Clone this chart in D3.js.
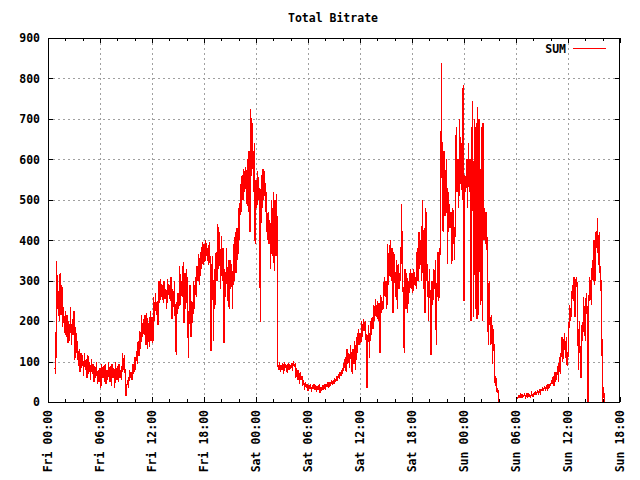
<!DOCTYPE html>
<html><head><meta charset="utf-8">
<script src="https://cdn.jsdelivr.net/npm/d3@7"></script>
<style>
body{margin:0;background:#fff}
svg text{font-family:"DejaVu Sans Mono",monospace;font-weight:bold;font-size:11.5px;fill:#000}
</style>
</head><body>
<svg id="c" width="640" height="480"></svg>
<script>
// Samples every 0.1 h, hours measured from Fri 00:00
const sampleStep = 0.1;
const friStart = 0.8;
const friValues = [
  85, 70,
  348, 230, 275, 200, 320, 215, 290, 185, 235, 170,
  225, 160, 215, 145, 200, 150, 235, 140, 205, 165,
  225, 105, 185, 120, 150, 90, 130, 75, 120, 85,
  115, 65, 120, 80, 105, 60, 115, 70, 100, 55,
  105, 70, 95, 50, 90, 60, 100, 45, 80, 50,
  85, 35, 95, 60, 90, 50, 95, 45, 80, 55,
  100, 50, 90, 40, 95, 60, 85, 35, 100, 55,
  90, 50, 95, 60, 80, 55, 120, 80, 115, 70,
  15, 40, 55, 35, 80, 60, 75, 55, 95, 70,
  110, 80, 125, 95, 150, 115, 175, 130, 215, 160,
  205, 165, 215, 140, 220, 130, 195, 135, 225, 150,
  210, 145, 260, 200, 270, 215, 250, 190, 300, 245,
  305, 260, 290, 245, 300, 255, 280, 230, 305, 265,
  290, 250, 310, 205, 280, 235, 300, 170, 115, 250,
  270, 230, 335, 240, 300, 260, 345, 195, 320, 230,
  330, 260, 108, 250, 290, 160, 250, 195, 300, 230,
  310, 260, 335, 300, 365, 290, 370, 330, 395, 340,
  390, 345, 400, 360, 380, 340, 395, 355, 125, 330,
  360, 150, 330, 240, 370, 300, 440, 330, 420, 280,
  410, 300, 380, 146, 330, 260, 380, 250, 350, 230,
  350, 280, 340, 230, 390, 300, 420, 320, 430, 350,
  480, 400, 540, 470, 560, 500, 575, 520, 580, 490,
  600, 470, 620, 420, 725, 560, 690, 520, 640, 390
];
const satStart = 24.0;
const satValues = [
  550, 480, 570, 500, 530, 198, 560, 480, 575, 500,
  570, 470, 520, 400, 470, 390, 450, 330, 500, 360,
  520, 325, 500, 360, 515, 96, 80, 98, 75, 92,
  80, 95, 70, 98, 85, 92, 72, 95, 80, 90,
  85, 95, 78, 100, 88, 92, 60, 85, 55, 80,
  45, 75, 55, 65, 40, 55, 30, 48, 35, 45,
  28, 42, 32, 45, 25, 40, 35, 45, 30, 42,
  25, 40, 30, 45, 22, 38, 28, 42, 35, 40,
  30, 45, 38, 48, 35, 50, 40, 55, 42, 52,
  45, 58, 50, 60, 55, 68, 58, 75, 65, 80,
  70, 95, 85, 110, 75, 130, 95, 120, 85, 140,
  110, 70, 130, 95, 150, 80, 160, 120, 180, 140,
  170, 145, 200, 160, 205, 175, 200, 160, 35, 150,
  190, 110, 200, 165, 210, 180, 240, 200, 255, 210,
  250, 200, 245, 120, 265, 220, 250, 230, 310, 260,
  300, 230, 390, 290, 350, 400, 300, 380, 220, 370,
  330, 260, 350, 230, 340, 280, 320, 300, 490, 310,
  260, 120, 330, 230, 320, 220, 300, 270, 330, 280,
  320, 270, 330, 290, 310, 280, 380, 300, 420, 330,
  400, 300, 500, 280, 430, 220, 480, 300, 340, 200,
  330, 250, 115, 300, 240, 330, 280, 350, 140, 300,
  370, 250, 350, 420, 839, 460, 420, 620, 460, 560,
  600, 340, 520, 470, 430, 470, 340, 480, 450, 350,
  460, 680, 520, 600, 480, 700, 540, 640, 500, 784
];
const sunStart = 48.0;
const sunValues = [
  250, 560, 520, 600, 480, 640, 520, 600, 200, 640,
  745, 210, 700, 230, 690, 205, 730, 215, 700, 240,
  680, 200, 690, 400, 480, 390, 470, 330, 140, 300,
  200, 140, 215, 95, 180, 110, 40, 60, 25, 35,
  0, null, null, null, null, null, null, null, null, null,
  null, null, null, null, null, null, null, null, null, null,
  5, 10, 8, 15, 12, 18, 10, 20, 12, 16,
  20, 12, 18, 10, 22, 14, 18, 12, 22, 15,
  15, 22, 18, 25, 20, 30, 18, 28, 22, 32,
  28, 35, 30, 40, 28, 38, 32, 45, 35, 42,
  40, 55, 45, 65, 40, 75, 55, 60, 90, 50,
  110, 70, 120, 160, 100, 140, 170, 110, 160, 90,
  115, 180, 240, 200, 230, 290, 250, 310, 210, 300,
  310, 260, 80, 200, 120, 60, 190, 150, 260, 200,
  150, 270, 230, 0, 240, 310, 280, 240, 350, 300,
  400, 290, 420, 380, 455, 340, 420, 320, 300, 180,
  0, 38, 0
];
const xTickLabels = ["Fri 00:00","Fri 06:00","Fri 12:00","Fri 18:00","Sat 00:00","Sat 06:00",
  "Sat 12:00","Sat 18:00","Sun 00:00","Sun 06:00","Sun 12:00","Sun 18:00"];
const yTicks = [0,100,200,300,400,500,600,700,800,900];
const titleText = "Total Bitrate";
const seriesName = "SUM";

function toPoints(start, vals){ return vals.map((v,i)=>({h:start+i*sampleStep, v:v})); }
const data = [].concat(toPoints(friStart,friValues), toPoints(satStart,satValues), toPoints(sunStart,sunValues));

const L=48, R=620, T=38, B=402;
const svg = d3.select("#c");
const x = d3.scaleLinear().domain([0,66]).range([L,R]);
const y = d3.scaleLinear().domain([0,900]).range([B,T]);
const majors = xTickLabels.map((_,i)=>i*6);
const minors = d3.range(0,67,2).filter(h=>h%6!==0);

// grid
const grid = svg.append("g").attr("stroke","#a0a0a0").attr("stroke-dasharray","2,3").attr("stroke-width",1);
grid.selectAll(".gx").data(majors.slice(1,-1)).enter().append("line")
  .attr("x1",d=>Math.round(x(d))+0.5).attr("x2",d=>Math.round(x(d))+0.5).attr("y1",T).attr("y2",B);
grid.selectAll(".gy").data(yTicks.slice(1,-1)).enter().append("line")
  .attr("y1",d=>Math.round(y(d))+0.5).attr("y2",d=>Math.round(y(d))+0.5).attr("x1",L).attr("x2",R);

// data line
const line = d3.line().defined(d=>d.v!==null).x(d=>x(d.h)).y(d=>y(d.v));
svg.append("path").datum(data).attr("d",line).attr("fill","none").attr("stroke","#ff0000")
  .attr("stroke-width",1.2).attr("shape-rendering","crispEdges");

// border
svg.append("rect").attr("x",L+0.5).attr("y",T+0.5).attr("width",R-L-1).attr("height",B-T).attr("fill","none").attr("stroke","#000");

// ticks
const tk = svg.append("g").attr("stroke","#000").attr("stroke-width",1);
majors.forEach(h=>{
  const px=Math.round(x(h))+0.5;
  tk.append("line").attr("x1",px).attr("x2",px).attr("y1",B).attr("y2",B-5);
  tk.append("line").attr("x1",px).attr("x2",px).attr("y1",T).attr("y2",T+5);
});
minors.forEach(h=>{
  const px=Math.round(x(h))+0.5;
  tk.append("line").attr("x1",px).attr("x2",px).attr("y1",B).attr("y2",B-3);
  tk.append("line").attr("x1",px).attr("x2",px).attr("y1",T).attr("y2",T+3);
});
yTicks.forEach(v=>{
  const py=Math.round(y(v))+0.5;
  tk.append("line").attr("x1",L).attr("x2",L+5).attr("y1",py).attr("y2",py);
  tk.append("line").attr("x1",R-5).attr("x2",R).attr("y1",py).attr("y2",py);
});

// y labels
svg.append("g").selectAll("text").data(yTicks).enter().append("text")
  .attr("x",40).attr("y",d=>y(d)).attr("dy","0.38em").attr("text-anchor","end").text(d=>d);

// x labels
svg.append("g").selectAll("text").data(majors).enter().append("text")
  .attr("transform",(d)=>`translate(${x(d)},410) rotate(-90)`)
  .attr("dy","0.38em").attr("text-anchor","end").text((d,i)=>xTickLabels[i]);

// title
svg.append("text").attr("x",333).attr("y",22).attr("text-anchor","middle").text(titleText);

// legend
svg.append("text").attr("x",566).attr("y",49).attr("dy","0.38em").attr("text-anchor","end").text(seriesName);
svg.append("line").attr("x1",573).attr("x2",606).attr("y1",48.5).attr("y2",48.5).attr("stroke","#ff0000").attr("stroke-width",1);
</script>
</body></html>
